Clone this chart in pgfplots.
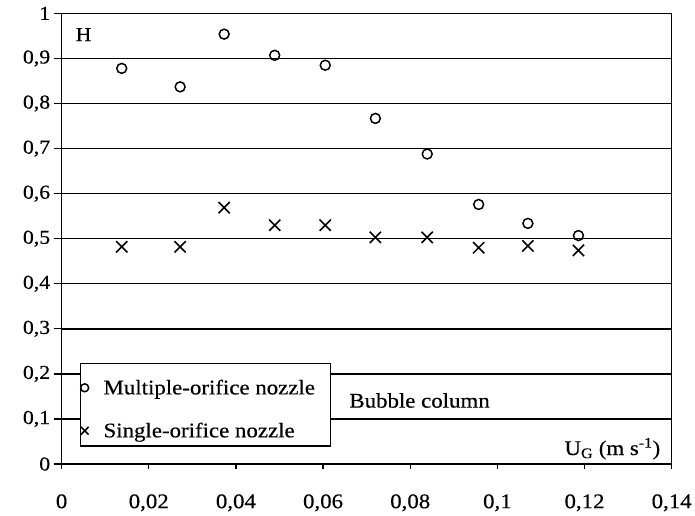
\documentclass[border=0pt]{standalone}
\usepackage{fontspec}
\setmainfont{Liberation Serif}[FakeStretch=1.1, FakeBold=0.4]
\usepackage{pgfplots}
\pgfplotsset{compat=1.18}
\newcommand{\figfont}{\fontsize{21}{24}\selectfont}
\pgfplotsset{smallmark legend/.style={legend image code/.code={%
    \path[##1] plot coordinates {(2bp,0bp)};
    \path[draw=none] (-2bp,0bp) -- (19bp,0bp);}}}
\begin{document}
\begin{tikzpicture}
\begin{axis}[
    scale only axis,
    width=614bp, height=453.5bp,
    xmin=0, xmax=0.14, ymin=0, ymax=1,
    xtick={0,0.02,0.04,0.06,0.08,0.1,0.12,0.14},
    ytick={0,0.1,0.2,0.3,0.4,0.5,0.6,0.7,0.8,0.9,1},
    scaled x ticks=false, scaled y ticks=false,
    /pgf/number format/fixed,
    /pgf/number format/precision=2,
    /pgf/number format/use comma,
    /pgf/number format/assume math mode=true,
    axis line style={black, line width=1.4bp},
    tick style={black, line width=1.3bp},
    tick align=outside,
    major tick length=8bp,
    xtick pos=bottom, ytick pos=left,
    xtick style={/pgfplots/major tick length=5bp},
    yticklabel style={font=\fontsize{20}{24}\selectfont},
    xticklabel style={font=\fontsize{21}{24}\selectfont, yshift=-19bp},
    legend cell align=left,
    legend style={at={(rel axis cs:0.031,0.1919)}, anchor=north west,
        draw=none, fill=none, font=\figfont,
        row sep=23bp, inner xsep=0bp, inner ysep=0bp},
]
% horizontal grid lines; 0.1 and 0.2 stop at the legend box
\pgfplotsinvokeforeach{0.3,0.4,0.5,0.6,0.7,0.8,0.9}{
    \draw[black, line width=1.4bp] (axis cs:0,#1) -- (axis cs:0.14,#1);
}
\pgfplotsinvokeforeach{0.1,0.2}{
    \draw[black, line width=1.4bp] (axis cs:0,#1) -- (axis cs:0.00434,#1);
    \draw[black, line width=1.4bp] (axis cs:0.06174,#1) -- (axis cs:0.14,#1);
}
\draw[black, line width=1.2bp, fill=white]
    (rel axis cs:0.031,0.223) rectangle (rel axis cs:0.441,0.040);
\addplot[only marks, mark=o, mark size=5bp, mark options={line width=1.5bp},
    smallmark legend, legend image post style={mark size=4bp, line width=1.3bp}]
    coordinates {
    (0.0138,0.878) (0.0272,0.837) (0.0373,0.954) (0.0489,0.907) (0.0605,0.885)
    (0.0720,0.767) (0.0839,0.688) (0.0957,0.576) (0.1070,0.534) (0.1186,0.507)
    };
\addlegendentry{Multiple-orifice nozzle}
\addplot[only marks, mark=x, mark size=8bp, mark options={line width=1.6bp},
    smallmark legend, legend image post style={mark size=5.5bp, line width=1.3bp}]
    coordinates {
    (0.0138,0.482) (0.0272,0.482) (0.0373,0.569) (0.0489,0.530) (0.0605,0.530)
    (0.0720,0.503) (0.0839,0.503) (0.0957,0.480) (0.1070,0.484) (0.1186,0.474)
    };
\addlegendentry{Single-orifice nozzle}
\node[font=\fontsize{20}{24}\selectfont, anchor=center] at (rel axis cs:0.036,0.953) {H};
\node[font=\figfont, anchor=west] at (rel axis cs:0.466,0.141) {Bubble column};
\node[font=\figfont, anchor=base east] at (rel axis cs:0.987,0.02)
    {U\textsubscript{G} (m s\textsuperscript{-1})};
\end{axis}
\path (-62bp,-52bp) rectangle (633bp,467bp);
\end{tikzpicture}
\end{document}
